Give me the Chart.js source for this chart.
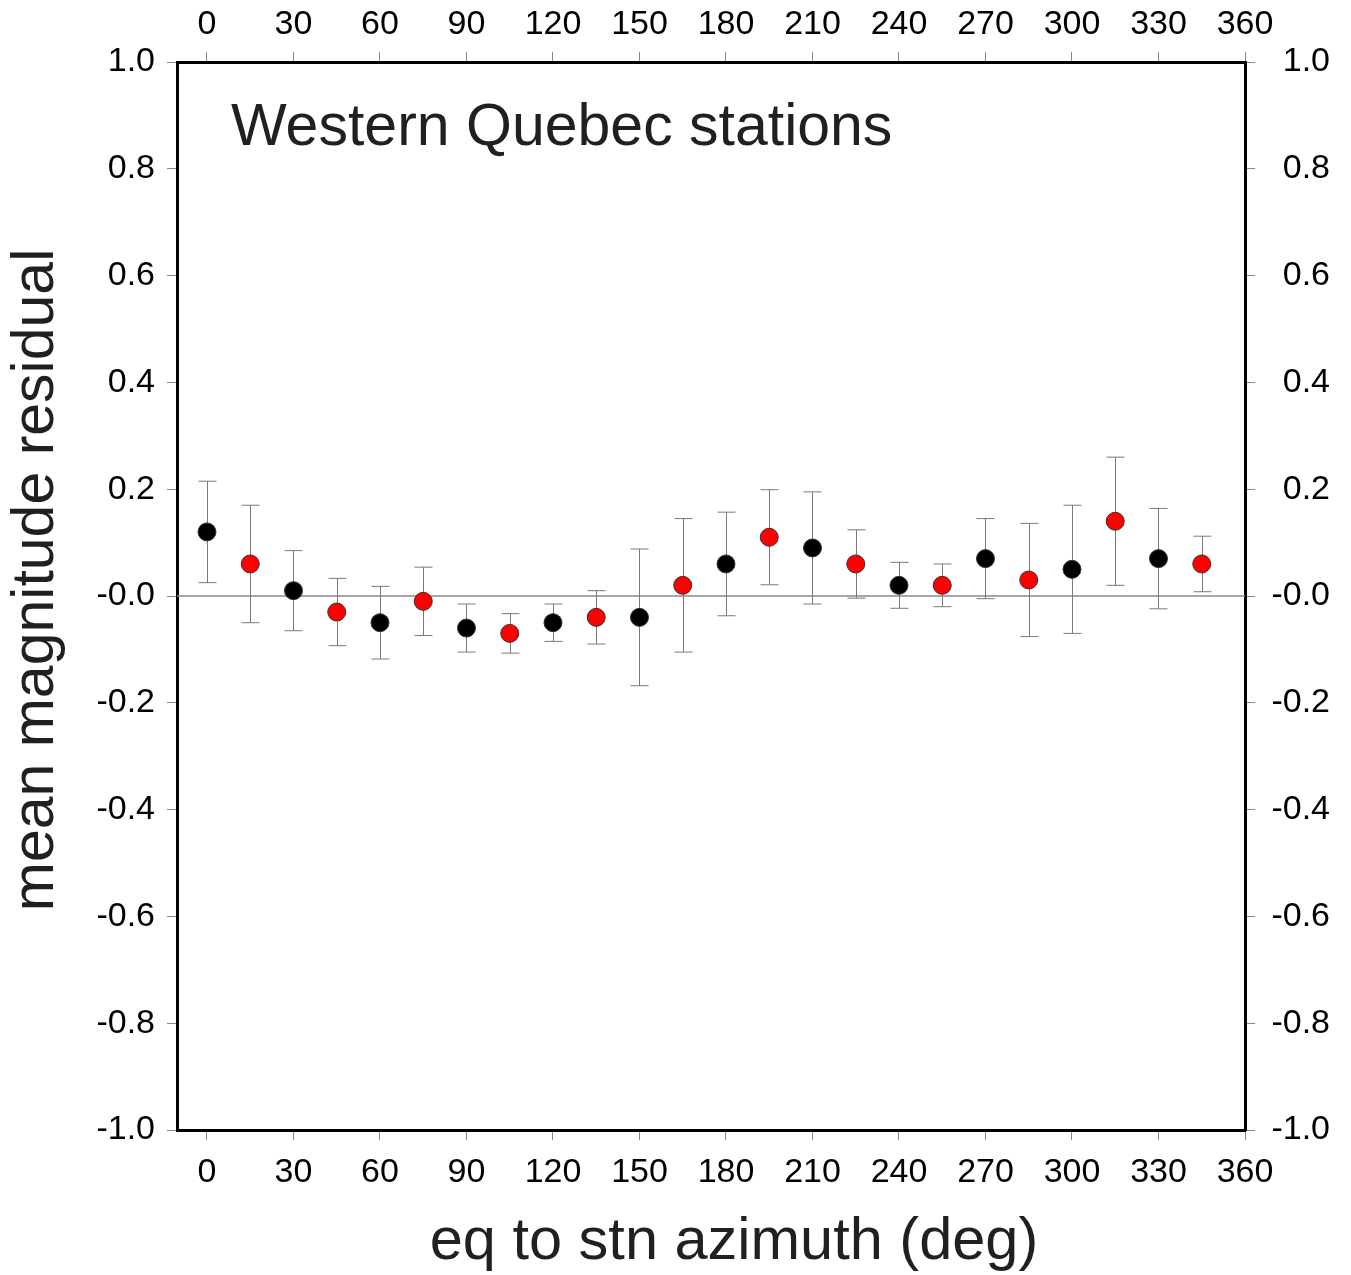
<!DOCTYPE html>
<html>
<head>
<meta charset="utf-8">
<script src="https://cdn.jsdelivr.net/npm/chart.js@4"></script>
<style>
  html, body { margin: 0; padding: 0; background: #fff; }
  #wrap { width: 1351px; height: 1275px; }
</style>
</head>
<body>
<div id="wrap"><canvas id="chart" width="1351" height="1275"></canvas></div>
<script>
// azimuth bins (deg), mean residual and error bar half-widths
const azimuth = [0, 15, 30, 45, 60, 75, 90, 105, 120, 135, 150, 165, 180, 195, 210, 225, 240, 255, 270, 285, 300, 315, 330, 345];
const residual = [0.12, 0.06, 0.01, -0.03, -0.05, -0.01, -0.06, -0.07, -0.05, -0.04, -0.04, 0.02, 0.06, 0.11, 0.09, 0.06, 0.02, 0.02, 0.07, 0.03, 0.05, 0.14, 0.07, 0.06];
const errHalf = [0.095, 0.11, 0.075, 0.063, 0.068, 0.064, 0.045, 0.037, 0.035, 0.05, 0.128, 0.125, 0.097, 0.089, 0.105, 0.064, 0.043, 0.04, 0.075, 0.106, 0.12, 0.12, 0.094, 0.052];
const pointColors = ['#000000', '#ff0000', '#000000', '#ff0000', '#000000', '#ff0000', '#000000', '#ff0000', '#000000', '#ff0000', '#000000', '#ff0000',
                     '#000000', '#ff0000', '#000000', '#ff0000', '#000000', '#ff0000', '#000000', '#ff0000', '#000000', '#ff0000', '#000000', '#ff0000'];
const xTicks = [0, 30, 60, 90, 120, 150, 180, 210, 240, 270, 300, 330, 360];
const yTicks = [-1.0, -0.8, -0.6, -0.4, -0.2, 0, 0.2, 0.4, 0.6, 0.8, 1.0];

const FONT = "'Liberation Sans', Arial, Helvetica, sans-serif";
const tickFont = { family: FONT, size: 34 };

const points = azimuth.map((a, i) => ({ x: a, y: residual[i] }));

function yLabel(v) {
    return v === 0 ? '-0.0' : v.toFixed(1);
}

// zero line + error bars, drawn under the markers
const errorBars = {
    id: 'errorBars',
    beforeDatasetsDraw(chart) {
        const { ctx, chartArea, scales: { x, y } } = chart;
        ctx.save();
        const y0 = y.getPixelForValue(0);
        ctx.strokeStyle = '#8a8a8a';
        ctx.lineWidth = 1.5;
        ctx.beginPath();
        ctx.moveTo(chartArea.left, y0);
        ctx.lineTo(chartArea.right, y0);
        ctx.stroke();

        ctx.strokeStyle = '#7a7a7a';
        ctx.lineWidth = 1;
        azimuth.forEach((a, i) => {
            const px = Math.round(x.getPixelForValue(a)) + 0.5;
            const top = y.getPixelForValue(residual[i] + errHalf[i]);
            const bot = y.getPixelForValue(residual[i] - errHalf[i]);
            ctx.beginPath();
            ctx.moveTo(px, top); ctx.lineTo(px, bot);
            ctx.moveTo(px - 9, top); ctx.lineTo(px + 9, top);
            ctx.moveTo(px - 9, bot); ctx.lineTo(px + 9, bot);
            ctx.stroke();
        });
        ctx.restore();
    }
};

// panel title and axis titles (placed like the original, slightly off-centre)
const labels = {
    id: 'labels',
    afterDraw(chart) {
        const { ctx, chartArea } = chart;
        ctx.save();
        ctx.fillStyle = '#231f20';
        ctx.textBaseline = 'alphabetic';
        ctx.textAlign = 'left';
        ctx.font = `59px ${FONT}`;
        ctx.fillText('Western Quebec stations', chartArea.left + 54, chartArea.top + 83);

        ctx.textAlign = 'center';
        ctx.textBaseline = 'middle';
        ctx.font = `59.5px ${FONT}`;
        ctx.fillText('eq to stn azimuth (deg)', 734, 1243);

        ctx.translate(37, 580);
        ctx.rotate(-Math.PI / 2);
        ctx.font = `59px ${FONT}`;
        ctx.fillText('mean magnitude residual', 0, 0);
        ctx.restore();
    }
};

const axisCommon = {
    grid: { drawOnChartArea: false, tickColor: '#888', tickLength: 10, tickWidth: 1 },
    border: { display: true, color: '#000', width: 3 },
};

new Chart(document.getElementById('chart'), {
    type: 'scatter',
    data: {
        datasets: [{
            data: points,
            pointRadius: 9,
            pointHoverRadius: 9,
            pointBackgroundColor: pointColors,
            pointBorderColor: '#333',
            pointBorderWidth: 1
        }]
    },
    options: {
        responsive: false,
        animation: false,
        events: [],
        layout: { padding: { left: 0, right: 21, top: 0, bottom: 0 } },
        plugins: { legend: { display: false }, tooltip: { enabled: false } },
        scales: {
            x: {
                ...axisCommon,
                type: 'linear', position: 'bottom', min: -10.4, max: 360,
                afterBuildTicks: s => { s.ticks = xTicks.map(v => ({ value: v })); },
                afterFit: s => { s.height = 145; },
                ticks: { font: tickFont, color: '#000', padding: 12, maxRotation: 0 }
            },
            x2: {
                ...axisCommon,
                type: 'linear', position: 'top', min: -10.4, max: 360,
                afterBuildTicks: s => { s.ticks = xTicks.map(v => ({ value: v })); },
                afterFit: s => { s.height = 62; },
                ticks: { font: tickFont, color: '#000', padding: 7, maxRotation: 0 }
            },
            y: {
                ...axisCommon,
                type: 'linear', position: 'left', min: -1, max: 1,
                afterBuildTicks: s => { s.ticks = yTicks.map(v => ({ value: v })); },
                afterFit: s => { s.width = 177; },
                ticks: { font: tickFont, color: '#000', padding: 12, callback: yLabel }
            },
            y2: {
                ...axisCommon,
                type: 'linear', position: 'right', min: -1, max: 1,
                afterBuildTicks: s => { s.ticks = yTicks.map(v => ({ value: v })); },
                afterFit: s => { s.width = 85; },
                ticks: { font: tickFont, color: '#000', padding: 12, crossAlign: 'far', callback: yLabel }
            }
        }
    },
    plugins: [errorBars, labels]
});
</script>
</body>
</html>
